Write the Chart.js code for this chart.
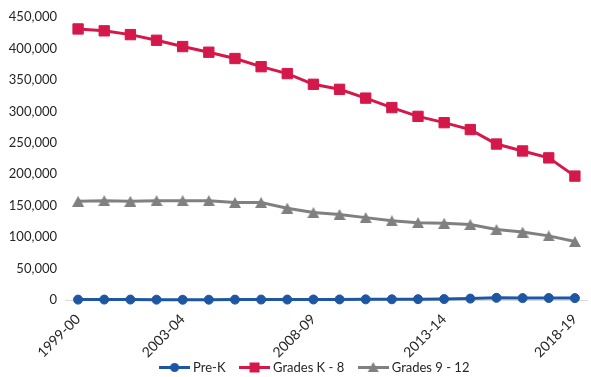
<!DOCTYPE html>
<html>
<head>
<meta charset="utf-8">
<script src="https://cdn.jsdelivr.net/npm/chart.js@4"></script>
<style>
  html, body { margin: 0; padding: 0; background: #fff; overflow: hidden; width: 591px; height: 377px; }
  #wrap { position: absolute; left: 0; top: 0; width: 598px; height: 398px; }
</style>
</head>
<body>
<div id="wrap"><canvas id="c" width="598" height="398"></canvas></div>
<script>
// School years on the category axis
const years = ['1999-00', '2000-01', '2001-02', '2002-03', '2003-04', '2004-05', '2005-06',
  '2006-07', '2007-08', '2008-09', '2009-10', '2010-11', '2011-12', '2012-13', '2013-14',
  '2014-15', '2015-16', '2016-17', '2017-18', '2018-19'];
// Years that carry a visible tick label
const labeledYears = ['1999-00', '2003-04', '2008-09', '2013-14', '2018-19'];

// Enrollment by grade band
const preK = [600, 700, 700, 500, 400, 500, 600, 700, 700, 800, 900, 1000, 1100, 1300, 1500,
  2200, 3500, 3000, 3200, 3000];
const gradesK8 = [431000, 428000, 422000, 413000, 403000, 394000, 384000, 371000, 360000, 343000,
  335000, 321000, 306000, 292000, 282000, 271000, 248000, 237000, 226000, 197000];
const grades912 = [157000, 158000, 157000, 158000, 158000, 158000, 155000, 155000, 146000, 139000,
  136000, 131000, 126000, 123000, 122000, 120000, 112000, 108000, 102000, 93000];

// Value axis range
const yMin = 0, yMax = 450000, yStep = 50000;

const BLUE = '#1D56A3';
const RED = '#D5184A';
const GRAY = '#808080';

// Triangle marker centred on its bounding box
function triangleMarker(color, w, h) {
  const cv = document.createElement('canvas');
  cv.width = w; cv.height = h;
  const g = cv.getContext('2d');
  g.fillStyle = color;
  g.beginPath();
  g.moveTo(w / 2, 0);
  g.lineTo(w, h);
  g.lineTo(0, h);
  g.closePath();
  g.fill();
  return cv;
}

// Legend swatch: a short line with the series marker in the middle
function legendIcon(color, kind) {
  const w = 31, h = 13;
  const cv = document.createElement('canvas');
  cv.width = w; cv.height = h;
  const g = cv.getContext('2d');
  g.strokeStyle = color; g.fillStyle = color; g.lineWidth = 3;
  g.beginPath(); g.moveTo(0, h / 2); g.lineTo(w, h / 2); g.stroke();
  const cx = w / 2, cy = h / 2;
  g.beginPath();
  if (kind === 'circle') {
    g.arc(cx, cy, 4.5, 0, Math.PI * 2);
  } else if (kind === 'rect') {
    g.rect(cx - 5, cy - 5, 10, 10);
  } else {
    g.moveTo(cx, cy - 5.5); g.lineTo(cx + 5.5, cy + 4.5); g.lineTo(cx - 5.5, cy + 4.5); g.closePath();
  }
  g.fill();
  return cv;
}

const triMarker = triangleMarker(GRAY, 12, 11);
const icons = [legendIcon(BLUE, 'circle'), legendIcon(RED, 'rect'), legendIcon(GRAY, 'tri')];

const FONT = { family: 'Lato, "Open Sans", sans-serif', size: 13 };
const XFONT = { family: 'Lato, "Open Sans", sans-serif', size: 14 };
const TEXT = '#262626';

// Move the legend row right (under the plot) and up, close to the tick labels
const legendShift = {
  id: 'legendShift',
  afterLayout(chart) {
    const lg = chart.legend;
    if (lg) {
      lg.left += 17; lg.right += 17;
      lg.top -= 14; lg.bottom -= 14;
    }
  }
};

new Chart(document.getElementById('c'), {
  type: 'line',
  data: {
    labels: years,
    datasets: [
      {
        label: 'Pre-K', data: preK, clip: false,
        borderColor: BLUE, backgroundColor: BLUE, borderWidth: 3,
        pointStyle: 'circle', pointRadius: 4.5, pointBorderWidth: 1,
        pointBackgroundColor: BLUE, pointBorderColor: BLUE
      },
      {
        label: 'Grades K - 8', data: gradesK8, clip: false,
        borderColor: RED, backgroundColor: RED, borderWidth: 3,
        pointStyle: 'rect', pointRadius: 7.3, pointBorderWidth: 1,
        pointBackgroundColor: RED, pointBorderColor: RED
      },
      {
        label: 'Grades 9 - 12', data: grades912, clip: false,
        borderColor: GRAY, backgroundColor: GRAY, borderWidth: 3,
        pointStyle: triMarker, pointRadius: 6,
        pointBackgroundColor: GRAY, pointBorderColor: GRAY
      }
    ]
  },
  plugins: [legendShift],
  options: {
    responsive: false,
    animation: false,
    devicePixelRatio: 1,
    layout: { padding: { top: 17, left: 0, right: 0, bottom: 0 } },
    plugins: {
      title: { display: false },
      tooltip: { enabled: false },
      legend: {
        position: 'bottom',
        align: 'center',
        labels: {
          usePointStyle: true,
          pointStyleWidth: 24,
          padding: 17,
          color: TEXT,
          font: FONT,
          generateLabels: (chart) => chart.data.datasets.map((ds, i) => ({
            text: ds.label,
            fillStyle: ds.borderColor,
            strokeStyle: ds.borderColor,
            lineWidth: 0,
            pointStyle: icons[i],
            hidden: false,
            datasetIndex: i,
            fontColor: TEXT
          }))
        }
      }
    },
    scales: {
      x: {
        offset: true,
        grid: { display: false, drawTicks: false },
        border: { display: true, color: '#D9D9D9', width: 1 },
        ticks: {
          autoSkip: false,
          maxRotation: 45,
          minRotation: 45,
          padding: 11,
          color: TEXT,
          font: XFONT,
          callback: function (value) {
            const lab = this.getLabelForValue(value);
            return labeledYears.includes(lab) ? lab : '';
          }
        },
        afterFit: (scale) => { scale.height = 58; }
      },
      y: {
        min: yMin, max: yMax,
        grid: { display: false, drawTicks: false },
        border: { display: false },
        ticks: {
          stepSize: yStep,
          padding: 8,
          color: TEXT,
          font: FONT,
          callback: (v) => v.toLocaleString('en-US')
        },
        afterFit: (scale) => { scale.width = 65; }
      }
    }
  }
});
</script>
</body>
</html>
